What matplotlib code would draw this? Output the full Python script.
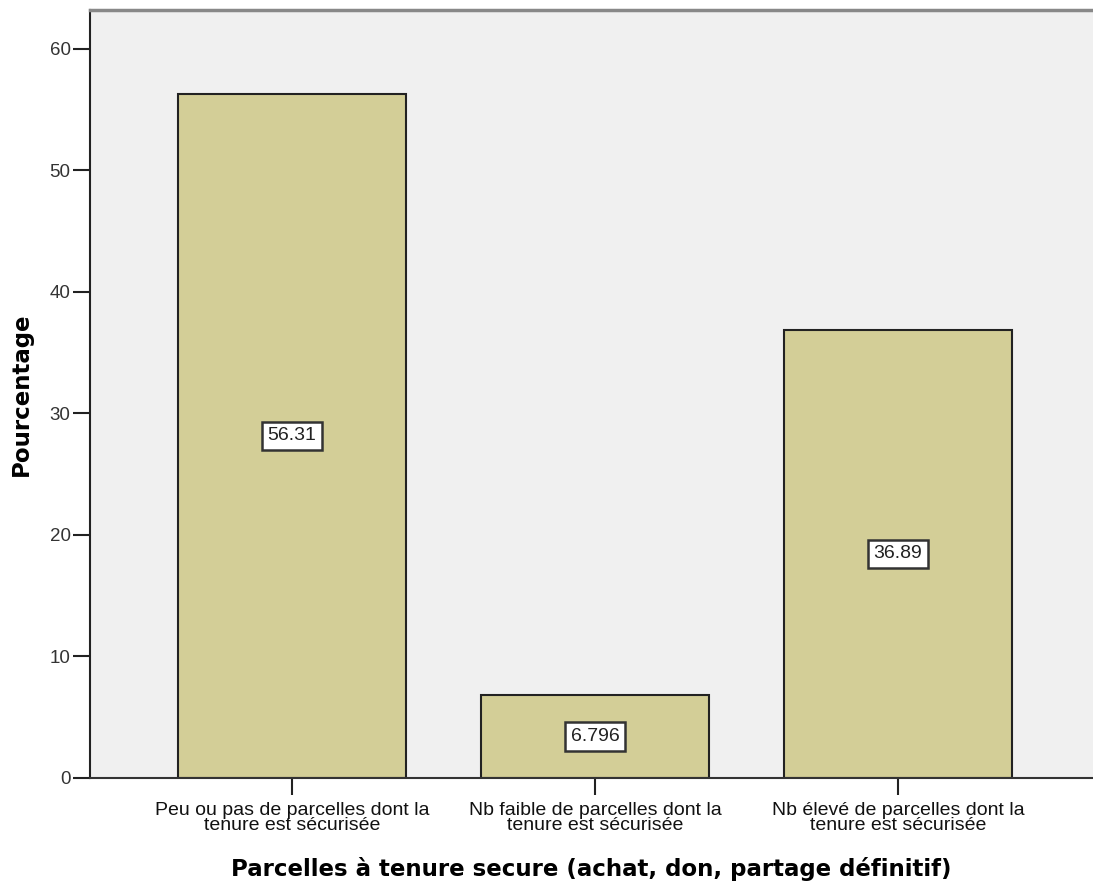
import matplotlib
matplotlib.use("Agg")
import matplotlib.pyplot as plt

categories = ["Peu ou pas de parcelles dont la\ntenure est sécurisée",
              "Nb faible de parcelles dont la\ntenure est sécurisée",
              "Nb élevé de parcelles dont la\ntenure est sécurisée"]
values = [56.31, 6.796, 36.89]
yticks = [0, 10, 20, 30, 40, 50, 60]

fig = plt.figure(figsize=(10.93, 8.82), dpi=100)
ax = fig.add_axes([90/1093, 1-778/882, 1-90/1093, (778-10)/882])
ax.set_facecolor("#f0f0f0")
x = list(range(len(values)))
ax.bar(x, values, width=0.752, color="#d3ce97", edgecolor="#222222", linewidth=1.5, zorder=2)
for xi, v in zip(x, values):
    ax.text(xi, v/2, f"{v:.4g}", ha="center", va="center", fontsize=14,
            family="Liberation Sans", color="#222222", zorder=3,
            bbox=dict(boxstyle="square,pad=0.3", facecolor="white", edgecolor="#333333", linewidth=1.8))
ax.set_xlim(-0.667, 2.644)
ax.set_ylim(0, 63.2)
ax.set_yticks(yticks)
ax.set_yticklabels([str(t) for t in yticks], fontsize=13.5, family="Liberation Sans", color="#333333")
ax.set_xticks(x)
ax.set_xticklabels(categories, fontsize=14, family="Liberation Sans", color="#111111", linespacing=0.9)
ax.tick_params(axis="both", direction="out", length=12, width=1.5, color="#222222")
ax.tick_params(axis="y", pad=2)
ax.tick_params(axis="x", pad=5)
ax.spines["right"].set_visible(False)
ax.spines["top"].set_color("#888888")
ax.spines["top"].set_linewidth(2.5)
ax.spines["left"].set_color("#222222")
ax.spines["left"].set_linewidth(1.5)
ax.spines["bottom"].set_color("#333333")
ax.spines["bottom"].set_linewidth(1.5)
ax.set_xlabel("Parcelles à tenure secure (achat, don, partage définitif)", fontsize=16.5,
              fontweight="bold", family="DejaVu Sans", labelpad=16)
ax.set_ylabel("Pourcentage", fontsize=16.5, fontweight="bold", family="DejaVu Sans", labelpad=12)
fig.savefig("out.png", dpi=100)
